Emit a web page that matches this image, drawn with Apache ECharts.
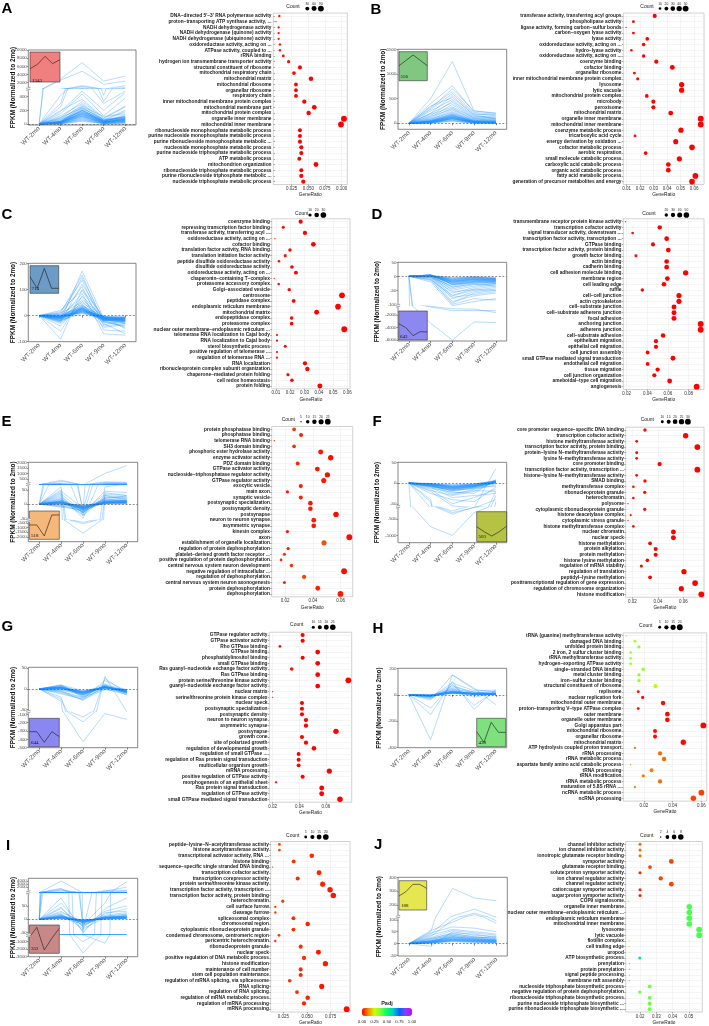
<!DOCTYPE html>
<html><head><meta charset="utf-8">
<script src="https://cdn.jsdelivr.net/npm/echarts@6/dist/echarts.min.js"></script>
<style>html,body{margin:0;padding:0;background:#fff}#c{width:709px;height:1026px}</style>
</head><body><div id="c"></div>
<script>
const months = ['WT-2mo','WT-4mo','WT-6mo','WT-9mo','WT-12mo'];

// ---------------- Panel A ----------------
const A_terms = ["DNA−directed 5'−3' RNA polymerase activity","proton−transporting ATP synthase activity, ...","NADH dehydrogenase activity","NADH dehydrogenase (quinone) activity","NADH dehydrogenase (ubiquinone) activity","oxidoreductase activity, acting on ...","ATPase activity, coupled to ...","rRNA binding","hydrogen ion transmembrane transporter activity","structural constituent of ribosome","mitochondrial respiratory chain","mitochondrial matrix","mitochondrial ribosome","organellar ribosome","respiratory chain","inner mitochondrial membrane protein complex","mitochondrial membrane part","mitochondrial protein complex","organelle inner membrane","mitochondrial inner membrane","ribonucleoside monophosphate metabolic process","purine nucleoside monophosphate metabolic process","purine ribonucleoside monophosphate metabolic ...","nucleoside monophosphate metabolic process","purine nucleoside triphosphate metabolic process","ATP metabolic process","mitochondrion organization","ribonucleoside triphosphate metabolic process","purine ribonucleoside triphosphate metabolic ...","nucleoside triphosphate metabolic process"];
const A_ratio = [0.0065,0.0015,0.0055,0.0055,0.0055,0.0075,0.0075,0.0125,0.0205,0.0375,0.0285,0.054,0.0315,0.0315,0.0315,0.044,0.059,0.0505,0.1035,0.099,0.0375,0.0375,0.0375,0.0395,0.0395,0.0365,0.0615,0.0395,0.0395,0.0425];
const A_count = [6,1,5,5,5,7,7,11,18,34,26,49,28,28,28,40,53,45,93,89,34,34,34,36,36,33,55,36,36,38];
const A_padj = [0.02,0.03,0.01,0.01,0.01,0.02,0.02,0.01,0.01,0,0,0,0,0,0,0,0,0,0,0,0,0,0,0,0,0,0,0,0,0];
const A_countLegend = [30,60,90];
const A_genes = 1343;
const A_trend = [40,53,77,55,67];
const A_lines = [
[0,2900,6900,2400,3600],[0,2600,4800,1600,2400],[0,300,1250,420,1250],[0,250,1050,330,800],[0,420,700,300,480],
[0,180,480,200,460],[0,150,440,120,380],[0,200,360,90,260],[0,90,330,80,250],[0,120,300,60,200],
[0,60,280,50,180],[0,80,260,110,150],[0,40,250,40,120],[0,100,230,70,100],[0,30,220,30,140],
[0,50,200,60,90],[0,20,190,20,80],[0,70,180,40,110],[0,30,170,50,70],[0,15,160,30,60],
[0,40,150,20,90],[0,25,140,35,50],[0,10,130,15,40],[0,35,120,25,70],[0,20,110,10,35],
[0,12,100,20,55],[0,8,90,12,30],[0,5,80,8,25],[0,15,70,18,45],[0,5,60,5,20],[0,3,50,10,15],[0,2,40,4,10],
[0,20,150,30,60],[0,25,170,40,75],[0,30,200,35,90],[0,15,120,25,50],[0,35,190,50,100],
[0,18,140,20,70],[0,22,160,45,85],[0,28,210,30,65],[0,12,110,15,45],[0,40,240,55,110]];

// ---------------- Panel B ----------------
const B_terms = ["transferase activity, transferring acyl groups","phospholipase activity","ligase activity, forming carbon−sulfur bonds","carbon−oxygen lyase activity","lyase activity","oxidoreductase activity, acting on ...","hydro−lyase activity","oxidoreductase activity, acting on ...","coenzyme binding","cofactor binding","organellar ribosome","inner mitochondrial membrane protein complex","lysosome","lytic vacuole","mitochondrial protein complex","microbody","peroxisome","mitochondrial matrix","organelle inner membrane","mitochondrial inner membrane","coenzyme metabolic process","tricarboxylic acid cycle","energy derivation by oxidation ...","cofactor metabolic process","aerobic respiration","small molecule catabolic process","carboxylic acid catabolic process","organic acid catabolic process","fatty acid metabolic process","generation of precursor metabolites and energy"];
const B_ratio = [0.0308,0.015,0.0095,0.015,0.0253,0.0226,0.0135,0.0226,0.032,0.0439,0.0157,0.0182,0.0508,0.0508,0.0249,0.0298,0.0298,0.0427,0.065,0.065,0.0503,0.0162,0.0464,0.0585,0.0241,0.0491,0.0409,0.0409,0.061,0.0585];
const B_count = [24,12,7,12,19,17,10,17,25,34,12,14,39,39,19,23,23,33,50,50,39,12,36,45,19,38,31,31,47,45];
const B_padj = [0,0.01,0.02,0.01,0,0,0.01,0,0,0,0.01,0.01,0,0,0,0,0,0,0,0,0,0.01,0,0,0,0,0,0,0,0];
const B_countLegend = [10,20,30,40,50];
const B_genes = 556;
const B_trend = [45,61,77,61,45];
const B_lines = [
[0,500,1250,250,200],[0,400,760,220,180],[0,300,700,250,210],[0,330,640,200,150],[0,280,600,180,170],
[0,200,560,150,120],[0,350,520,170,90],[0,250,480,140,100],[0,150,450,120,130],[0,200,420,100,80],
[0,120,380,90,60],[0,180,330,110,90],[0,100,310,80,70],[0,140,290,70,50],[0,80,270,60,40],
[0,60,240,50,55],[0,90,220,40,30],[0,50,200,60,35],[0,70,180,35,25],[0,40,160,30,20],
[0,30,150,25,30],[0,55,140,45,15],[0,25,130,20,20],[0,35,120,30,10],[0,20,110,15,15],
[0,15,100,20,8],[0,25,90,10,12],[0,10,80,12,5],[0,12,70,8,8],[0,8,60,5,4],[0,5,50,6,3],[0,4,40,3,5],
[0,30,120,25,15],[0,40,140,30,20],[0,20,100,20,10],[0,35,160,35,25],[0,25,110,18,12],
[0,45,170,40,22],[0,15,90,15,8],[0,50,190,45,30],[0,28,130,28,18],[0,18,95,22,10]];

// ---------------- Panel C ----------------
const C_terms = ["coenzyme binding","repressing transcription factor binding","transferase activity, transferring acyl ...","oxidoreductase activity, acting on ...","cofactor binding","translation factor activity, RNA binding","translation initiation factor activity","peptide disulfide oxidoreductase activity","disulfide oxidoreductase activity","oxidoreductase activity, acting on ...","chaperonin−containing T−complex","proteasome accessory complex","Golgi−associated vesicle","centrosome","peptidase complex","endoplasmic reticulum membrane","mitochondrial matrix","endopeptidase complex","proteasome complex","nuclear outer membrane−endoplasmic reticulum ...","telomerase RNA localization to Cajal body","RNA localization to Cajal body","sterol biosynthetic process","positive regulation of telomerase ...","regulation of telomerase RNA ...","RNA localization","ribonucleoprotein complex subunit organization","chaperone−mediated protein folding","cell redox homeostasis","protein folding"];
const C_ratio = [0.0273,0.0151,0.0303,0.0093,0.0362,0.0198,0.0165,0.0121,0.0212,0.024,0.0088,0.0119,0.0193,0.0563,0.0224,0.0535,0.0385,0.021,0.021,0.0579,0.0107,0.0107,0.0165,0.0107,0.0107,0.0303,0.032,0.0184,0.0212,0.0408];
const C_count = [16,9,17,5,21,11,9,7,12,14,5,7,11,32,13,30,22,12,12,33,6,6,9,6,6,17,18,10,12,23];
const C_padj = [0,0.01,0,0.02,0,0.01,0.01,0.01,0,0,0.02,0.01,0.01,0,0,0,0,0,0,0,0.01,0.01,0.01,0.01,0.01,0,0,0.01,0,0];
const C_countLegend = [10,20,30];
const C_genes = 714;
const C_trend = [50,15,75,15,15];
const C_lines = [
[0,-20,170,-10,-20],[0,10,155,-30,-70],[0,-5,145,-20,-45],[0,15,135,-40,-30],[0,-25,120,-15,-10],
[0,5,110,-55,-60],[0,-90,100,-5,-15],[0,20,95,-25,-40],[0,-10,85,-70,-75],[0,-60,75,-10,-30],
[0,0,70,-35,-20],[0,-15,60,-5,-50],[0,-40,55,-20,-10],[0,10,50,-10,-25],[0,-5,45,-45,-35],
[0,-20,40,-15,-15],[0,-30,35,-5,-20],[0,5,30,-10,-10],[0,-10,25,-25,-30],[0,-15,20,-5,-5],
[0,-8,15,-15,-20],[0,2,10,-8,-12],[0,-5,28,-12,-18],[0,-12,22,-3,-8],[0,-3,35,-18,-25],
[0,-20,18,-10,-15],[0,-7,12,-6,-10],[0,-25,30,-20,-12],[0,-2,40,-8,-6],[0,-18,8,-14,-22],
[0,-5,20,-10,-12],[0,-8,25,-15,-15],[0,-3,15,-8,-10],[0,-10,30,-12,-18],[0,-6,22,-18,-20],
[0,-12,18,-6,-8],[0,-4,26,-14,-16],[0,-9,12,-10,-14],[0,-2,32,-16,-22],[0,-7,28,-9,-11],[0,-14,24,-20,-25],[0,-1,16,-5,-6]];

// ---------------- Panel D ----------------
const D_terms = ["transmembrane receptor protein kinase activity","transcription cofactor activity","signal transducer activity, downstream ...","transcription factor activity, transcription ...","GTPase binding","transcription factor activity, protein binding","growth factor binding","actin binding","cadherin binding","cell adhesion molecule binding","membrane region","cell leading edge","ruffle","cell−cell junction","actin cytoskeleton","cell−substrate junction","cell−substrate adherens junction","focal adhesion","anchoring junction","adherens junction","cell−substrate adhesion","epithelium migration","epithelial cell migration","cell junction assembly","small GTPase mediated signal transduction","endothelial cell migration","tissue migration","cell junction organization","ameboidal−type cell migration","angiogenesis"];
const D_ratio = [0.019,0.052,0.0258,0.0587,0.0455,0.0603,0.029,0.0587,0.0587,0.0771,0.0594,0.0561,0.0352,0.0706,0.0706,0.0658,0.0658,0.0658,0.0916,0.0916,0.0552,0.0484,0.0484,0.0403,0.0648,0.0403,0.05,0.0468,0.0616,0.0877];
const D_count = [11,31,15,35,27,36,17,35,35,46,36,34,21,42,42,39,39,39,55,55,33,29,29,24,39,24,30,28,37,53];
const D_padj = [0.02,0,0.01,0,0,0,0.01,0,0,0,0,0,0.01,0,0,0,0,0,0,0,0,0,0,0,0,0,0,0,0,0];
const D_countLegend = [20,30,40,50];
const D_genes = 643;
const D_trend = [49,37,13,25,24];
const D_lines = [
[0,-3300,-6000,-3100,-3200],[0,-700,-1300,-1250,-1300],[0,-600,-1000,-1050,-1600],[0,-20,-105,-90,-80],[0,-10,-100,-80,-85],
[0,-15,-95,-60,-50],[0,-5,-90,-70,-60],[0,0,-80,-55,-45],[0,-8,-75,-65,-55],[0,2,-70,-50,-40],
[0,-12,-68,-45,-35],[0,3,-60,-40,-30],[0,-4,-55,-48,-50],[0,5,-50,-35,-25],[0,-2,-45,-30,-28],
[0,4,-40,-25,-20],[0,1,-38,-28,-35],[0,-3,-35,-20,-18],[0,5,-30,-18,-15],[0,2,-28,-22,-25],
[0,3,-25,-15,-12],[0,4,-22,-12,-20],[0,1,-20,-10,-10],[0,5,-18,-8,-15],[0,2,-15,-6,-8],
[0,3,-12,-5,-12],[0,1,-10,-4,-6],[0,4,-8,-3,-9],[0,2,-6,-2,-4],[0,3,-5,-2,-7],
[0,2,-15,-10,-12],[0,3,-20,-14,-15],[0,4,-25,-18,-20],[0,1,-12,-8,-10],[0,5,-28,-20,-22],
[0,3,-18,-12,-14],[0,2,-22,-16,-18],[0,4,-30,-25,-24],[0,1,-10,-6,-8],[0,3,-16,-11,-13]];

// ---------------- Panel E ----------------
const E_terms = ["protein phosphatase binding","phosphatase binding","telomerase RNA binding","SH3 domain binding","phosphoric ester hydrolase activity","enzyme activator activity","PDZ domain binding","GTPase activator activity","nucleoside−triphosphatase regulator activity","GTPase regulator activity","exocytic vesicle","main axon","synaptic vesicle","postsynaptic specialization","postsynaptic density","postsynapse","neuron to neuron synapse","asymmetric synapse","kinesin complex","axon","establishment of organelle localization","regulation of protein dephosphorylation","platelet−derived growth factor receptor ...","positive regulation of protein dephosphorylation","central nervous system neuron development","negative regulation of intracellular ...","regulation of dephosphorylation","central nervous system neuron axonogenesis","protein dephosphorylation","dephosphorylation"];
const E_ratio = [0.0265,0.0315,0.0123,0.0265,0.0456,0.0528,0.0291,0.0432,0.0504,0.0478,0.0313,0.0217,0.0313,0.0382,0.0382,0.0566,0.0406,0.0406,0.0217,0.0662,0.048,0.0222,0.0195,0.0171,0.0246,0.0624,0.0337,0.0195,0.0435,0.0598];
const E_count = [11,13,5,11,19,22,12,18,21,20,13,9,13,16,16,23,17,17,9,27,20,9,8,7,10,26,14,8,18,25];
const E_padj = [0.05,0.03,0.02,0.04,0.02,0.01,0.03,0.02,0.01,0.02,0.03,0.02,0.03,0.02,0.02,0.01,0.02,0.02,0.02,0.01,0.07,0.03,0.03,0.03,0.04,0.01,0.06,0.03,0.03,0.02];
const E_countLegend = [5,10,15,20,25];
const E_genes = 518;
const E_trend = [43,43,10,73,73];
const E_lines = [
[0,400,-30,1000,1700],[0,300,-20,250,220],[0,150,-40,200,180],[0,60,-450,60,70],[0,40,-1600,40,30],
[0,50,-600,30,25],[0,30,-50,120,100],[0,25,-30,45,40],[0,35,-25,35,30],[0,20,-40,25,22],
[0,15,-20,20,28],[0,45,-15,15,18],[0,10,-35,30,15],[0,12,-28,18,12],[0,8,-22,12,10],
[0,5,-18,10,8],[0,6,-12,8,14],[0,3,-10,6,6],[0,4,-8,5,5],[0,2,-15,4,9],
[0,-3,-6,3,4],[0,-5,-25,8,3],[0,-8,-12,2,7],[0,-2,-5,1,2],[0,7,-9,14,11],
[0,18,-30,22,20],[0,-10,-20,5,6],[0,1,-3,2,1],
[0,5,-10,5,6],[0,8,-15,8,9],[0,3,-8,4,5],[0,6,-12,6,8],[0,10,-18,10,12],
[0,4,-6,3,4],[0,7,-14,7,10],[0,2,-9,5,7],[0,9,-11,9,11],[0,12,-16,12,13]];

// ---------------- Panel F ----------------
const F_terms = ["core promoter sequence−specific DNA binding","transcription cofactor activity","histone methyltransferase activity","transcription factor activity, protein binding","protein−lysine N−methyltransferase activity","lysine N−methyltransferase activity","core promoter binding","transcription factor activity, transcription ...","histone−lysine N−methyltransferase activity","SMAD binding","methyltransferase complex","ribonucleoprotein granule","heterochromatin","polysome","cytoplasmic ribonucleoprotein granule","histone deacetylase complex","cytoplasmic stress granule","histone methyltransferase complex","nuclear chromatin","nuclear speck","histone methylation","protein alkylation","protein methylation","histone lysine methylation","regulation of mRNA stability","regulation of translation","peptidyl−lysine methylation","posttranscriptional regulation of gene expression","regulation of chromosome organization","histone modification"];
const F_ratio = [0.0299,0.0618,0.0234,0.071,0.0234,0.0234,0.0414,0.071,0.0234,0.0299,0.0208,0.0297,0.0208,0.0166,0.0297,0.0187,0.0166,0.0208,0.0522,0.0522,0.0339,0.0383,0.0383,0.0318,0.0271,0.0605,0.0339,0.0692,0.0584,0.0741];
const F_count = [12,26,10,30,10,10,17,30,10,12,9,12,9,7,12,8,7,9,22,22,14,16,16,13,11,25,14,29,24,31];
const F_padj = [0.01,0,0.01,0,0.01,0.01,0,0,0.01,0.01,0.01,0.01,0.01,0.02,0.01,0.02,0.02,0.01,0,0,0,0,0,0,0.01,0,0,0,0,0];
const F_countLegend = [10,15,20,25,30];
const F_genes = 503;
const F_trend = [45,30,17,30,47];
const F_lines = [
[0,-730,-1000,-300,-45],[0,-60,-350,-130,-20],[0,-45,-300,-150,-30],[0,-40,-250,-60,35],[0,-20,-55,-60,-40],
[0,-15,-50,-35,-15],[0,-25,-40,-45,-10],[0,-10,-35,-30,-25],[0,-18,-30,-20,5],[0,-8,-28,-15,-5],
[0,-12,-22,-25,8],[0,-5,-20,-12,2],[0,-6,-18,-10,-8],[0,-3,-15,-8,3],[0,-4,-12,-6,-2],
[0,-2,-10,-5,4],[0,-7,-14,-9,1],[0,-1,-8,-4,2],[0,-3,-6,-3,5],[0,-2,-5,-2,3],
[0,-1,-4,-2,6],[0,-5,-25,-18,-20],[0,-9,-16,-14,0],[0,-2,-9,-7,7],[0,-4,-11,-3,4],
[0,-4,-10,-6,2],[0,-6,-14,-8,3],[0,-3,-8,-5,1],[0,-5,-12,-7,4],[0,-8,-18,-12,2],
[0,-2,-7,-4,3],[0,-7,-16,-10,5],[0,-4,-11,-8,1],[0,-6,-13,-9,2],[0,-3,-9,-6,4]];

// ---------------- Panel G ----------------
const G_terms = ["GTPase regulator activity","GTPase activator activity","Rho GTPase binding","GTPase binding","phosphatidylinositol binding","small GTPase binding","Ras guanyl−nucleotide exchange factor activity","Ras GTPase binding","protein serine/threonine kinase activity","guanyl−nucleotide exchange factor activity","nuclear matrix","serine/threonine protein kinase complex","nuclear speck","postsynaptic specialization","postsynaptic density","neuron to neuron synapse","asymmetric synapse","postsynapse","growth cone","site of polarized growth","regulation of developmental growth","regulation of small GTPase ...","regulation of Ras protein signal transduction","multicellular organism growth","mRNA processing","positive regulation of GTPase activity","morphogenesis of an epithelial sheet","Ras protein signal transduction","regulation of GTPase activity","small GTPase mediated signal transduction"];
const G_ratio = [0.0425,0.0425,0.0255,0.0538,0.0425,0.0538,0.0343,0.0538,0.0768,0.0538,0.02,0.02,0.042,0.042,0.042,0.045,0.045,0.0675,0.042,0.045,0.051,0.0395,0.0395,0.0395,0.0625,0.0425,0.0225,0.0568,0.0568,0.0705];
const G_count = [15,15,9,19,15,19,12,19,28,19,7,7,15,15,15,16,16,24,15,16,18,14,14,14,22,15,8,20,20,25];
const G_padj = [0,0,0.01,0,0,0,0.01,0,0,0,0.02,0.02,0,0,0,0,0,0,0,0,0,0,0,0,0,0,0.01,0,0,0];
const G_countLegend = [10,15,20,25];
const G_genes = 644;
const G_trend = [45,45,13,45,30];
const G_lines = [
[0,-30,-430,-90,-160],[0,-20,-190,30,-55],[0,-25,-130,25,-10],[0,-10,-25,20,-5],[0,10,-20,10,-8],
[0,5,-15,5,-12],[0,-5,-28,8,-15],[0,8,-10,3,-3],[0,3,-18,6,-10],[0,-8,-22,2,-6],
[0,2,-12,4,-4],[0,6,-8,1,-2],[0,-3,-14,7,-9],[0,4,-6,2,-7],[0,1,-5,3,-1],
[0,-2,-9,5,-5],[0,7,-16,9,-11],[0,-6,-20,0,-14],[0,9,-4,4,-3],[0,-12,-25,-2,-8],
[0,3,-11,12,-6],[0,-1,-7,6,-2],
[0,2,-8,4,-4],[0,3,-10,5,-6],[0,1,-6,3,-3],[0,4,-12,6,-7],[0,2,-9,4,-5],
[0,5,-14,7,-8],[0,1,-7,2,-4],[0,3,-11,5,-6],[0,2,-13,6,-9],[0,4,-8,3,-5]];

// ---------------- Panel H ----------------
const H_terms = ["tRNA (guanine) methyltransferase activity","damaged DNA binding","unfolded protein binding","2 iron, 2 sulfur cluster binding","tRNA methyltransferase activity","hydrogen−exporting ATPase activity","single−stranded DNA binding","metal cluster binding","iron−sulfur cluster binding","structural constituent of ribosome","replisome","nuclear replication fork","mitochondrial outer membrane","proton−transporting V−type ATPase complex","outer membrane","organelle outer membrane","Golgi apparatus part","mitochondrial ribosome","organellar ribosome","mitochondrial matrix","ATP hydrolysis coupled proton transport","rRNA processing","rRNA metabolic process","aspartate family amino acid catabolic process","tRNA processing","tRNA modification","tRNA metabolic process","maturation of 5.8S rRNA ...","ncRNA metabolic process","ncRNA processing"];
const H_ratio = [0.0079,0.0137,0.0165,0.0107,0.0107,0.0107,0.0195,0.0165,0.0165,0.0281,0.016,0.0191,0.0333,0.016,0.0363,0.0363,0.0614,0.0277,0.0277,0.0474,0.0137,0.0312,0.034,0.0107,0.0253,0.0195,0.0312,0.0137,0.06,0.0544];
const H_count = [3,5,6,4,4,4,7,6,6,10,5,6,11,5,12,12,20,9,9,16,4,10,11,3,8,6,10,4,19,17];
const H_padj = [0.33,0.29,0.33,0.34,0.34,0.34,0.33,0.33,0.33,0.27,0.01,0.01,0.01,0.01,0.005,0.005,0.005,0.01,0.01,0.005,0.11,0.1,0.1,0.12,0.11,0.11,0.1,0.12,0.06,0.06];
const H_countLegend = [5,10,15,20];
const H_genes = 438;
const H_trend = [45,13,73,43,43];
const H_lines = [
[0,-340,150,40,20],[0,-150,100,-110,40],[0,-100,80,-80,30],[0,-40,150,50,-75],[0,-30,60,20,10],
[0,-20,90,30,35],[0,-15,70,15,25],[0,-10,50,10,5],[0,-5,40,20,15],[0,-18,30,5,8],
[0,-8,25,12,10],[0,-3,20,8,3],[0,-12,35,3,6],[0,-6,15,6,2],[0,-2,12,2,4],
[0,-9,22,9,12],[0,-4,28,4,0],[0,-14,18,14,7],[0,-1,10,1,1],[0,-25,45,-20,18],
[0,-5,15,5,5],[0,-8,20,8,6],[0,-3,12,4,3],[0,-6,18,6,7],[0,-10,25,10,8],
[0,-4,14,5,4],[0,-7,22,7,9],[0,-2,10,3,2],[0,-9,16,9,5],[0,-5,24,6,6]];

// ---------------- Panel I ----------------
const I_terms = ["peptide−lysine−N−acetyltransferase activity","histone acetyltransferase activity","transcriptional activator activity, RNA ...","histone binding","sequence−specific single stranded DNA binding","transcription cofactor activity","transcription corepressor activity","protein serine/threonine kinase activity","transcription factor activity, transcription ...","transcription factor activity, protein binding","heterochromatin","cell surface furrow","cleavage furrow","spliceosomal complex","chromosomal region","cytoplasmic ribonucleoprotein granule","condensed chromosome, centromeric region","pericentric heterochromatin","ribonucleoprotein granule","nuclear speck","positive regulation of DNA metabolic process","histone modification","maintenance of cell number","stem cell population maintenance","regulation of mRNA splicing, via spliceosome","RNA splicing","regulation of RNA splicing","regulation of mRNA metabolic process","regulation of mRNA processing","mRNA processing"];
const I_ratio = [0.0208,0.0208,0.055,0.0359,0.0137,0.0627,0.0401,0.0665,0.0743,0.0778,0.0243,0.0165,0.0165,0.0356,0.0507,0.0356,0.0204,0.0165,0.0433,0.062,0.0468,0.0694,0.0433,0.0433,0.0317,0.0655,0.0394,0.0507,0.0468,0.0919];
const I_count = [5,5,13,9,3,15,10,16,18,19,6,4,4,9,12,9,5,4,10,15,11,17,10,10,8,16,9,12,11,22];
const I_padj = [0.06,0.06,0.04,0.04,0.03,0.03,0.04,0.03,0.02,0.02,0.05,0.05,0.05,0.04,0.03,0.04,0.05,0.05,0.04,0.02,0.04,0.02,0.04,0.04,0.04,0.02,0.04,0.03,0.03,0.01];
const I_countLegend = [5,10,15,20];
const I_genes = 352;
const I_trend = [48,78,10,45,75];
const I_lines = [
[0,4000,-60,-1200,3800],[0,1500,-2500,500,1900],[0,1200,-1000,800,800],[0,900,-40,300,600],[0,600,-20,60,200],
[0,80,-50,40,80],[0,60,-30,30,50],[0,40,-25,20,40],[0,30,-15,15,25],[0,25,-10,10,20],
[0,20,-35,5,15],[0,15,-8,8,10],[0,12,-5,3,12],[0,10,-12,6,8],[0,8,-3,2,6],
[0,5,-18,4,5],[0,3,-6,1,3],[0,6,-2,0,4],[0,18,-22,12,18],[0,14,-14,7,14],[0,9,-9,9,9],[0,45,-45,25,30],
[0,5,-5,3,5],[0,8,-8,5,8],[0,3,-3,2,3],[0,6,-6,4,6],[0,10,-10,6,10],
[0,4,-4,2,4],[0,7,-7,4,7],[0,12,-12,8,12],[0,9,-5,5,9],[0,6,-9,3,6]];

// ---------------- Panel J ----------------
const J_terms = ["channel inhibitor activity","ion channel inhibitor activity","ionotropic glutamate receptor binding","symporter activity","glutamate receptor binding","solute:proton symporter activity","ion channel regulator activity","channel regulator activity","cation:sugar symporter activity","sugar:proton symporter activity","COP9 signalosome","organelle inner membrane","nuclear outer membrane−endoplasmic reticulum ...","endoplasmic reticulum membrane","mitochondrial inner membrane","lysosome","lytic vacuole","flotillin complex","cell trailing edge","uropod","ATP biosynthetic process","prenylation","protein prenylation","signal peptide processing","membrane raft assembly","nucleoside triphosphate biosynthetic process","negative regulation of protein dephosphorylation","ribonucleoside triphosphate biosynthetic process","purine nucleoside triphosphate biosynthetic ...","purine ribonucleoside triphosphate biosynthetic ..."];
const J_ratio = [0.02,0.02,0.02,0.0392,0.0261,0.02,0.0327,0.0392,0.02,0.02,0.0129,0.0502,0.0502,0.0502,0.0502,0.0563,0.0563,0.0133,0.0133,0.0133,0.0198,0.0135,0.0135,0.0135,0.0135,0.0259,0.0198,0.0259,0.0259,0.0259];
const J_count = [3,3,3,6,4,3,5,6,3,3,2,8,8,8,8,9,9,2,2,2,3,2,2,2,2,4,3,4,4,4];
const J_padj = [0.1,0.1,0.1,0.06,0.06,0.03,0.06,0.06,0.03,0.03,0.38,0.42,0.42,0.42,0.42,0.42,0.42,0.3,0.3,0.3,0.56,0.45,0.45,0.45,0.45,0.38,0.38,0.38,0.38,0.38];
const J_countLegend = [2,4,6,8];
const J_genes = 188;
const J_trend = [42,55,77,77,65];
const J_lines = [
[0,50,320,250,230],[0,40,120,170,110],[0,30,100,140,95],[0,55,90,130,85],[0,45,70,65,50],
[0,35,60,50,40],[0,25,55,45,35],[0,-12,50,35,30],[0,20,45,40,25],[0,15,40,30,20],
[0,18,35,25,28],[0,10,30,20,15],[0,12,25,18,12],[0,8,20,15,10],[0,5,18,12,8],
[0,6,15,10,6],[0,3,12,8,5],[0,4,10,6,4],[0,2,8,5,3],[0,22,42,28,22],
[0,5,15,12,8],[0,8,20,15,12],[0,10,25,18,14],[0,6,18,13,10],[0,12,30,22,16],
[0,4,12,10,7],[0,9,22,16,12],[0,7,28,20,15],[0,11,35,25,18],[0,3,14,9,6]];

const padjTicks = ['0.00','0.25','0.50','0.75','1.00'];

// ---------------- layout (positions / styles only) ----------------
const FONT = "'Liberation Sans', Arial, sans-serif";
const LINE_COLOR = 'rgba(30,144,255,0.55)';
const RAINBOW = ['#FF0000','#F08C00','#CCFF00','#6EFF3C','#00FF66','#00C8D2','#0066FF','#8C3CFF','#CC00FF'];
const LAY = {
 A:{letter:[1.5,1.5],titleX:13.3,box:[28.3,136],
   sec:[{t:50,b:88.8,min:500,max:10000,ticks:[2000,4000,6000,8000,10000]},{t:88.8,b:125,min:-15,max:515,ticks:[0,200,400]}],
   inset:{x:30,y:52,w:30,h:30,color:'#F08080',max:90,label:[32,80.5]},
   dot:{x:[273.3,347.3],y:[13.1,184.5],min:-0.0025,max:0.1085,ticks:[0.025,0.05,0.075,0.1],dec:3},
   leg:{text:[293,6.7],x0:307.3,dx:6.8,y:8.6}},
 B:{letter:[370.5,2.5],titleX:383.3,box:[398,506.7],
   sec:[{t:49.3,b:129.3,min:-122,max:1500,ticks:[0,500,1000,1500]}],
   inset:{x:399,y:51.7,w:28.3,h:29,color:'#80C880',max:87,label:[400.5,76.5]},
   dot:{x:[623.3,704],y:[13.1,184.5],min:0.0075,max:0.0674,ticks:[0.01,0.02,0.03,0.04,0.05,0.06],dec:2},
   leg:{text:[647,6.7],x0:660,dx:6.4,y:8.6}},
 C:{letter:[1.5,207],titleX:13.3,box:[28.3,136],
   sec:[{t:263.3,b:341.7,min:-100,max:200,ticks:[-100,0,100,200]}],
   inset:{x:30,y:265.7,w:28.7,h:27.6,color:'#6C9BC6',max:83,label:[31.5,289]},
   dot:{x:[271.7,350],y:[218.8,388.8],min:0.007,max:0.0619,ticks:[0.01,0.02,0.03,0.04,0.05,0.06],dec:2},
   leg:{text:[301.7,213.3],x0:310,dx:6.7,y:215}},
 D:{letter:[371.5,207],titleX:377.3,box:[398,506.7],
   sec:[{t:262.3,b:305.7,min:-105,max:50,ticks:[-100,-50,0,50]},{t:305.7,b:341,min:-6150,max:-500,ticks:[-6000,-4000,-2000]}],
   inset:{x:398.7,y:311,w:28.6,h:29,color:'#8C88F0',max:87,label:[400,337]},
   dot:{x:[623.3,704],y:[218.8,389.5],min:0.0168,max:0.0948,ticks:[0.02,0.04,0.06,0.08],dec:2},
   leg:{text:[649,213.3],x0:666.3,dx:6.7,y:215}},
 E:{letter:[1.5,414.5],titleX:13.3,box:[28.3,137.7],
   sec:[{t:462.3,b:484,min:60,max:2000,ticks:[500,1000,1500,2000]},{t:484,b:520,min:-55,max:70,ticks:[-50,0,50]},{t:520,b:541.7,min:-2500,max:-200,ticks:[-2000,-1500,-1000,-500]}],
   inset:{x:29.3,y:511,w:30,h:28.3,color:'#F5B77A',max:85,label:[31,536]},
   dot:{x:[271.7,352.7],y:[426.5,596.8],min:0.0104,max:0.0686,ticks:[0.02,0.04,0.06],dec:2},
   leg:{text:[288.3,420],x0:301,dx:6.7,y:421.7}},
 F:{letter:[372.5,414.5],titleX:377.3,box:[398,506.7],
   sec:[{t:462.3,b:506.7,min:-57,max:50,ticks:[-50,0,50]},{t:506.7,b:542.7,min:-1220,max:-120,ticks:[-1000,-500]}],
   inset:{x:476.7,y:511.7,w:30,h:30,color:'#B5C244',max:90,label:[478.5,537]},
   dot:{x:[625.7,704],y:[427.2,597.2],min:0.0148,max:0.0762,ticks:[0.02,0.04,0.06],dec:2},
   leg:{text:[647.3,420],x0:662.3,dx:6.4,y:421.7}},
 G:{letter:[1.5,619.5],titleX:13.3,box:[28.3,137.7],
   sec:[{t:667.3,b:711.7,min:-55,max:52,ticks:[-50,0,50]},{t:711.7,b:747.7,min:-500,max:-68,ticks:[-500,-400,-300,-200,-100]}],
   inset:{x:29.3,y:718.3,w:30,h:28.4,color:'#8B87F0',max:85,label:[31,743]},
   dot:{x:[269.3,351.7],y:[632.2,802.2],min:0.0175,max:0.0793,ticks:[0.02,0.04,0.06],dec:2},
   leg:{text:[296.7,625],x0:313.3,dx:6.5,y:627.3}},
 H:{letter:[372.5,621],titleX:379,box:[398,506.7],
   sec:[{t:668.3,b:747.7,min:-400,max:200,ticks:[-400,-200,0,200]}],
   inset:{x:476.7,y:718.3,w:29,h:28.4,color:'#7EE07E',max:85,label:[478.5,743]},
   dot:{x:[623.3,706.7],y:[632.9,801.1],min:0.0056,max:0.0637,ticks:[0.02,0.04,0.06],dec:2},
   leg:{text:[645.7,626],x0:659.7,dx:6.7,y:627.3}},
 I:{letter:[6,838],titleX:13.3,box:[28.3,137.7],
   sec:[{t:878.3,b:892.3,min:100,max:5000,ticks:[1000,2000,3000,4000,5000]},{t:892.3,b:935,min:-59,max:101,ticks:[-50,0,50]},{t:935,b:956.7,min:-3000,max:-100,ticks:[-3000,-2000,-1000]}],
   inset:{x:29.3,y:925,w:30,h:28.3,color:'#C98888',max:85,label:[31,949]},
   dot:{x:[270.7,350],y:[841.5,1012.9],min:0.0116,max:0.0954,ticks:[0.025,0.05,0.075],dec:3},
   leg:{text:[292.7,836],x0:305.7,dx:6.7,y:837}},
 J:{letter:[374,837],titleX:379,box:[398,507.3],
   sec:[{t:877.3,b:916.7,min:115,max:400,ticks:[200,300,400]},{t:916.7,b:956,min:-52,max:113,ticks:[-50,0,50,100]}],
   inset:{x:399,y:880.7,w:27.7,h:29.3,color:'#E6E650',max:88,label:[401,906]},
   dot:{x:[625.7,702.3],y:[841.5,1012.9],min:0.0112,max:0.0582,ticks:[0.02,0.03,0.04,0.05],dec:2},
   leg:{text:[646.7,836],x0:660.7,dx:6.7,y:837}}
};

const PANELS = [
 ['A',A_terms,A_ratio,A_count,A_padj,A_countLegend,A_genes,A_trend,A_lines],
 ['B',B_terms,B_ratio,B_count,B_padj,B_countLegend,B_genes,B_trend,B_lines],
 ['C',C_terms,C_ratio,C_count,C_padj,C_countLegend,C_genes,C_trend,C_lines],
 ['D',D_terms,D_ratio,D_count,D_padj,D_countLegend,D_genes,D_trend,D_lines],
 ['E',E_terms,E_ratio,E_count,E_padj,E_countLegend,E_genes,E_trend,E_lines],
 ['F',F_terms,F_ratio,F_count,F_padj,F_countLegend,F_genes,F_trend,F_lines],
 ['G',G_terms,G_ratio,G_count,G_padj,G_countLegend,G_genes,G_trend,G_lines],
 ['H',H_terms,H_ratio,H_count,H_padj,H_countLegend,H_genes,H_trend,H_lines],
 ['I',I_terms,I_ratio,I_count,I_padj,I_countLegend,I_genes,I_trend,I_lines],
 ['J',J_terms,J_ratio,J_count,J_padj,J_countLegend,J_genes,J_trend,J_lines]
];

const option = {animation:false, textStyle:{fontFamily:FONT}, grid:[], xAxis:[], yAxis:[], series:[], graphic:[], visualMap:[]};
const scatterIdx = [];
function addGrid(g){ option.grid.push(g); return option.grid.length-1; }
function gtext(x,y,text,st,extra){ option.graphic.push(Object.assign({type:'text', x:x, y:y, z:100, silent:true, style:Object.assign({text:text, fontFamily:FONT, fill:'#222'}, st)}, extra||{})); }

PANELS.forEach(([key,terms,ratio,count,padj,legVals,genes,trend,lines])=>{
  const L = LAY[key];
  // ---- dot plot ----
  const d = L.dot;
  const gi = addGrid({left:d.x[0], top:d.y[0], width:d.x[1]-d.x[0], height:d.y[1]-d.y[0], show:true, borderColor:'#b3b3b3', borderWidth:0.6});
  option.xAxis.push({gridIndex:gi, type:'value', min:d.min, max:d.max,
    axisLine:{show:false},
    axisTick:{show:true, length:1.5, customValues:d.ticks, lineStyle:{color:'#555', width:0.5}},
    axisLabel:{customValues:d.ticks, fontSize:4.5, color:'#333', margin:1.8, formatter:v=>v.toFixed(d.dec)},
    splitLine:{show:true, lineStyle:{color:'#ebebeb', width:0.5}},
    name:'GeneRatio', nameLocation:'middle', nameGap:8, nameTextStyle:{fontSize:4.8, color:'#222'}});
  option.yAxis.push({gridIndex:gi, type:'category', data:terms, inverse:true,
    axisLine:{show:false},
    axisTick:{show:true, alignWithLabel:true, length:1.5, lineStyle:{color:'#555', width:0.5}},
    axisLabel:{interval:0, fontSize:4.8, color:'#1a1a1a', fontWeight:'bold', margin:1.8},
    splitLine:{show:true, alignWithLabel:true, lineStyle:{color:'#ebebeb', width:0.5}}});
  const cmin = Math.min(...count), cmax = Math.max(...count);
  const sz = c => 1.3 + 4.6*Math.sqrt((Math.max(c,cmin)-cmin)/(cmax-cmin));
  scatterIdx.push(option.series.length);
  option.series.push({type:'scatter', xAxisIndex:gi, yAxisIndex:gi, silent:true, z:3,
    data: terms.map((t,i)=>[ratio[i], i, count[i], padj[i]]),
    symbolSize: v=>sz(v[2]), itemStyle:{opacity:1}});
  // count legend
  gtext(L.leg.text[0], L.leg.text[1], 'Count', {fontSize:5, align:'center', verticalAlign:'middle'});
  legVals.forEach((v,k)=>{
    const cx = L.leg.x0 + k*L.leg.dx;
    option.graphic.push({type:'circle', z:100, silent:true, shape:{cx:cx, cy:L.leg.y, r:sz(v)/2}, style:{fill:'#000'}});
    gtext(cx, L.leg.y-4.8, String(v), {fontSize:3.3, align:'center', verticalAlign:'middle'});
  });
  // ---- line chart sections ----
  const nS = L.sec.length;
  L.sec.forEach((s,si)=>{
    const g = addGrid({left:L.box[0], top:s.t, width:L.box[1]-L.box[0], height:s.b-s.t, show:false});
    const bottom = si===nS-1;
    option.xAxis.push({gridIndex:g, type:'category', data:months, boundaryGap:true,
      axisLine:{show:false},
      axisTick:{show:bottom, alignWithLabel:true, length:2, lineStyle:{color:'#333', width:0.6}},
      axisLabel:{show:bottom, interval:0, rotate:45, fontSize:6.3, color:'#4d4d4d', margin:2.5},
      splitLine:{show:false}});
    option.yAxis.push({gridIndex:g, type:'value', min:s.min, max:s.max,
      axisLine:{show:false}, splitLine:{show:false},
      axisTick:{show:true, length:1.5, customValues:s.ticks, lineStyle:{color:'#333', width:0.5}},
      axisLabel:{customValues:s.ticks, fontSize:4.4, color:'#4d4d4d', margin:1.5, formatter:v=>String(v)}});
    lines.forEach((ln,li)=>{
      const ser = {type:'line', xAxisIndex:g, yAxisIndex:g, data:ln, symbol:'none', silent:true, clip:true, z:2,
        lineStyle:{width:0.6, color:LINE_COLOR}};
      if (li===lines.length-1 && s.min<0 && s.max>0) {
        ser.markLine = {silent:true, symbol:['none','none'], label:{show:false}, animation:false,
          lineStyle:{type:[2,1.6], color:'#444', width:0.6}, data:[{yAxis:0}]};
      }
      option.series.push(ser);
    });
    if (!bottom) {
      const x0 = L.box[0], yb = s.b;
      option.graphic.push({type:'rect', z:101, silent:true, shape:{x:x0-2.2, y:yb-1.6, width:4.4, height:3.2}, style:{fill:'#fff'}});
      option.graphic.push({type:'line', z:102, silent:true, shape:{x1:x0-2.2, y1:yb-0.4, x2:x0+2.2, y2:yb-1.5}, style:{stroke:'#444', lineWidth:0.5}});
      option.graphic.push({type:'line', z:102, silent:true, shape:{x1:x0-2.2, y1:yb+1.5, x2:x0+2.2, y2:yb+0.4}, style:{stroke:'#444', lineWidth:0.5}});
    }
  });
  const top = L.sec[0].t, bot = L.sec[nS-1].b;
  option.graphic.push({type:'rect', z:99, silent:true, shape:{x:L.box[0], y:top, width:L.box[1]-L.box[0], height:bot-top}, style:{fill:'none', stroke:'#555', lineWidth:0.7}});
  // y title
  gtext(L.titleX, (top+bot)/2, 'FPKM (Normalized to 2mo)', {fontSize:6.4, fontWeight:'bold', fill:'#111', align:'center', verticalAlign:'middle'}, {rotation:Math.PI/2});
  // panel letter
  gtext(L.letter[0], L.letter[1], key, {fontSize:15, fontWeight:'bold', fill:'#000', align:'left', verticalAlign:'top'});
  // inset (cluster trend)
  const In = L.inset;
  const ig = addGrid({left:In.x, top:In.y, width:In.w, height:In.h, show:true, backgroundColor:In.color, borderColor:'#333', borderWidth:0.6, z:10});
  option.xAxis.push({gridIndex:ig, type:'category', data:months, boundaryGap:false, show:false});
  option.yAxis.push({gridIndex:ig, type:'value', min:0, max:In.max, show:false});
  option.series.push({type:'line', xAxisIndex:ig, yAxisIndex:ig, data:trend, symbol:'none', silent:true, z:12,
    lineStyle:{color:'#1a1a1a', width:0.6}});
  gtext(In.label[0], In.label[1], String(genes), {fontSize:5, fontFamily:"'Liberation Serif', serif", fill:'#111', align:'left', verticalAlign:'middle'});
});

// Padj colour bar (shown under panel J)
option.visualMap.push({type:'continuous', min:0, max:1, dimension:3, seriesIndex:scatterIdx,
  orient:'horizontal', left:362, top:1008, itemWidth:8, itemHeight:50, padding:0,
  calculable:false, hoverLink:false, realtime:false, inRange:{color:RAINBOW}});
gtext(387, 1003.3, 'Padj', {fontSize:5.5, fontWeight:'bold', fill:'#222', align:'center', verticalAlign:'middle'});
padjTicks.forEach((t,k)=>gtext(362 + k*12.5, 1021.7, t, {fontSize:4.4, fill:'#222', align:'center', verticalAlign:'middle'}));

const chart = echarts.init(document.getElementById('c'), null, {renderer:'canvas'});
chart.setOption(option);
</script>
</body></html>
